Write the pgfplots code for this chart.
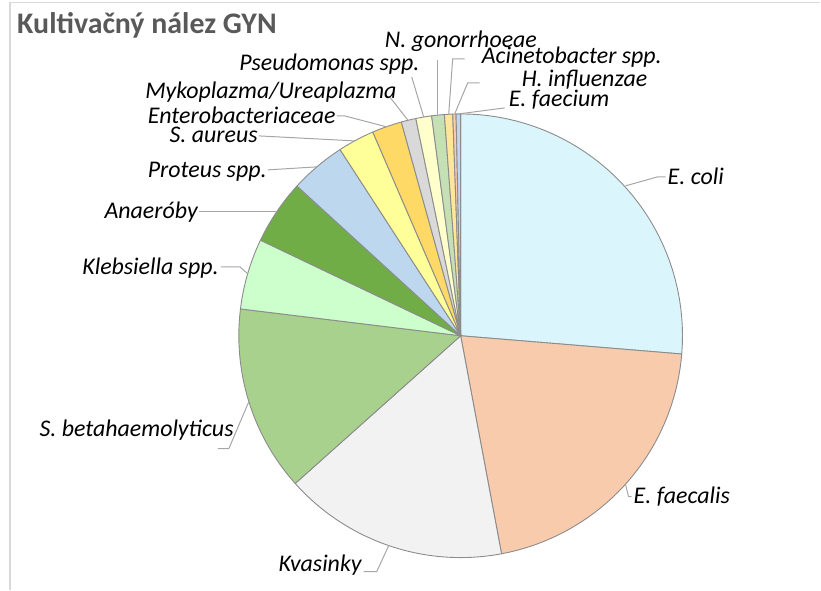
\documentclass[border=0pt]{standalone}
\usepackage{fontspec}
\setmainfont{Carlito}
\usepackage{pgfplots}
\usepackage{pgfplotstable}
\pgfplotsset{compat=1.18}
\definecolor{c0}{HTML}{DAF6FC}
\definecolor{c1}{HTML}{F8CBAD}
\definecolor{c2}{HTML}{F2F2F2}
\definecolor{c3}{HTML}{A9D18E}
\definecolor{c4}{HTML}{CCFFCC}
\definecolor{c5}{HTML}{70AD47}
\definecolor{c6}{HTML}{BDD7EE}
\definecolor{c7}{HTML}{FFFF99}
\definecolor{c8}{HTML}{FFD966}
\definecolor{c9}{HTML}{D9D9D9}
\definecolor{c10}{HTML}{FFFFCC}
\definecolor{c11}{HTML}{C5E0B4}
\definecolor{c12}{HTML}{FFE699}
\definecolor{c13}{HTML}{F8CBAD}
\definecolor{c14}{HTML}{BDD7EE}
\definecolor{pieline}{HTML}{8C8C8C}
\definecolor{leadcol}{HTML}{A6A6A6}
\definecolor{framecol}{HTML}{D9D9D9}
\definecolor{titlecol}{HTML}{595959}
% share of each culture finding (percent), clockwise from 12 o'clock
\pgfplotstableread{
value
26.31
20.74
16.35
13.53
5.16
4.70
4.06
2.67
2.17
1.07
1.15
0.92
0.60
0.24
0.33
}\piedata
\newcommand\lab{\fontsize{24}{28}\selectfont\itshape}
\begin{document}
\begin{tikzpicture}
\begin{axis}[scale only axis, width=821bp, height=590bp,
  xmin=0, xmax=821, ymin=0, ymax=590, y dir=reverse,
  hide axis, clip=false]
\path (axis cs:0,0) rectangle (axis cs:821,590);
\draw[framecol, line width=1.2bp] (axis cs:10,590) -- (axis cs:10,2.5) -- (axis cs:821,2.5);
\pgfplotstablegetrowsof{\piedata}
\pgfmathtruncatemacro\N{\pgfplotsretval-1}
\def\cum{0}
\pgfplotsforeachungrouped \i in {0,...,\N}{%
  \pgfplotstablegetelem{\i}{value}\of\piedata
  \let\v\pgfplotsretval
  \pgfmathsetmacro\a{90-3.6*\cum}
  \pgfmathsetmacro\b{90-3.6*(\cum+\v)}
  \edef\temp{\noexpand\addplot[fill=c\i, draw=pieline, line width=0.9bp, line join=round, domain=\b:\a, samples=40] ({461+222*cos(x)},{336-222*sin(x)}) -- (axis cs:461,336) -- cycle;}
  \temp
  \pgfmathsetmacro\cum{\cum+\v}
}
% leader lines
\begin{scope}[leadcol, line width=1bp]
\draw (axis cs:626,186) -- (axis cs:658,177) -- (axis cs:666,177);
\draw (axis cs:626,485) -- (axis cs:629,497) -- (axis cs:632,497);
\draw (axis cs:389,546) -- (axis cs:377,572) -- (axis cs:364,572);
\draw (axis cs:249,402) -- (axis cs:229,449) -- (axis cs:218,449);
\draw (axis cs:221,267) -- (axis cs:240,267) -- (axis cs:248,274);
\draw (axis cs:199,212) -- (axis cs:277,212);
\draw (axis cs:268,170) -- (axis cs:317,167);
\draw (axis cs:259,136) -- (axis cs:355,141);
\draw (axis cs:337,116) -- (axis cs:345,116) -- (axis cs:387,127);
\draw (axis cs:390,97) -- (axis cs:408,120);
\draw (axis cs:412,77) -- (axis cs:424,117);
\draw (axis cs:438,60) -- (axis cs:438,116);
\draw (axis cs:465,59) -- (axis cs:453,59) -- (axis cs:449,115);
\draw (axis cs:480,83) -- (axis cs:468,83) -- (axis cs:455,114);
\draw (axis cs:505,108) -- (axis cs:459,114);
\end{scope}
% labels
\begin{scope}[every node/.style={inner sep=0pt, font=\lab}]
\node[anchor=west] at (axis cs:668,176) {E. coli};
\node[anchor=west] at (axis cs:634,497) {E. faecalis};
\node[anchor=east] at (axis cs:362,566) {Kvasinky};
\node[anchor=east] at (axis cs:234,430) {S. betahaemolyticus};
\node[anchor=east] at (axis cs:219,268) {Klebsiella spp.};
\node[anchor=east] at (axis cs:198,212) {Anaeróby};
\node[anchor=east] at (axis cs:267,172) {Proteus spp.};
\node[anchor=east] at (axis cs:258,135) {S. aureus};
\node[anchor=east] at (axis cs:336,115) {Enterobacteriaceae};
\node[anchor=east] at (axis cs:397,92) {Mykoplazma/Ureaplazma};
\node[anchor=east] at (axis cs:420,64) {Pseudomonas spp.};
\node[anchor=west] at (axis cs:385,41) {N. gonorrhoeae};
\node[anchor=west] at (axis cs:482,57) {Acinetobacter spp.};
\node[anchor=west] at (axis cs:522,80) {H. influenzae};
\node[anchor=west] at (axis cs:509,100) {E. faecium};
\end{scope}
\node[anchor=west, inner sep=0pt, text=titlecol, font=\fontsize{30}{35}\selectfont\bfseries] at (axis cs:17,25) {Kultivačný nález GYN};
\end{axis}
\end{tikzpicture}
\end{document}
